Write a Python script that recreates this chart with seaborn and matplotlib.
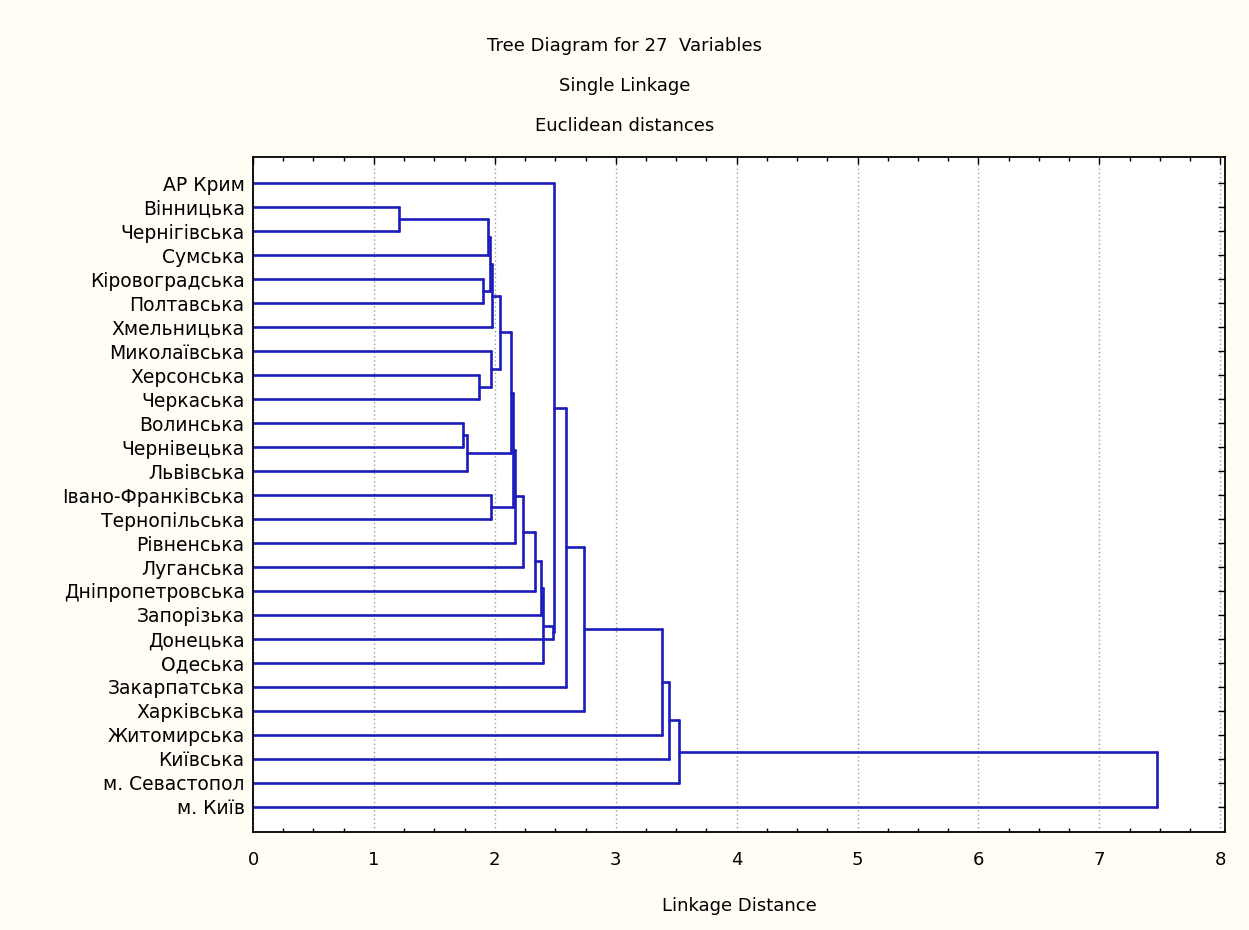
import matplotlib.pyplot as plt
from matplotlib.ticker import MultipleLocator
import seaborn as sns
import numpy as np
import pandas as pd

# leaves, top to bottom
labels = ['АР Крим', 'Вінницька', 'Чернігівська', 'Сумська', 'Кіровоградська',
          'Полтавська', 'Хмельницька', 'Миколаївська', 'Херсонська', 'Черкаська',
          'Волинська', 'Чернівецька', 'Львівська', 'Івано-Франківська',
          'Тернопільська', 'Рівненська', 'Луганська', 'Дніпропетровська',
          'Запорізька', 'Донецька', 'Одеська', 'Закарпатська', 'Харківська',
          'Житомирська', 'Київська', 'м. Севастопол', 'м. Київ']

# single linkage merges: ids < 27 are leaves, id 27+k is the k-th merge
merge_a = [1, 10, 28, 8, 4, 27, 32, 7, 13, 33, 36, 37, 38, 39, 40, 41,
           42, 43, 44, 0, 46, 47, 48, 49, 50, 51]
merge_b = [2, 11, 12, 9, 5, 3, 31, 30, 14, 6, 34, 29, 35, 15, 16, 17,
           18, 20, 19, 45, 21, 22, 23, 24, 25, 26]
merge_dist = [1.21, 1.74, 1.77, 1.87, 1.90, 1.94, 1.96, 1.965, 1.97, 1.98,
              2.04, 2.13, 2.15, 2.165, 2.23, 2.33, 2.38, 2.40, 2.485, 2.49,
              2.59, 2.74, 3.38, 3.44, 3.52, 7.48]

n = len(labels)
pos = {i: (float(i), 0.0) for i in range(n)}  # id -> (y, height)
rows = []
seg = 0
for k, (a, b, d) in enumerate(zip(merge_a, merge_b, merge_dist)):
    ya, ha = pos[a]
    yb, hb = pos[b]
    for x0, x1, y0, y1 in [(ha, d, ya, ya), (hb, d, yb, yb), (d, d, ya, yb)]:
        rows.append((seg, x0, y0))
        rows.append((seg, x1, y1))
        seg += 1
    pos[n + k] = ((ya + yb) / 2, d)
segs = pd.DataFrame(rows, columns=['seg', 'x', 'y'])

sns.set_style('white')
plt.rcParams['font.family'] = ['DejaVu Sans']
plt.rcParams.update({'text.color': 'black', 'axes.labelcolor': 'black',
                     'xtick.color': 'black', 'ytick.color': 'black'})

fig = plt.figure(figsize=(12.49, 9.30), dpi=100, facecolor='#fffdf4')
ax = fig.add_axes([0.2026, 0.1054, 0.7782, 0.7258])
ax.set_facecolor('white')

sns.lineplot(data=segs, x='x', y='y', units='seg', estimator=None, sort=False,
             color='#1c1cbc', linewidth=1.9, legend=False, ax=ax)

ax.set_xlim(0, 8.04)
ax.set_ylim(n - 1 + 1.05, -1.1)
ax.set_yticks(range(n))
ax.set_yticklabels(labels, fontsize=13.5)
ax.set_xticks(range(9))
ax.set_xticklabels([str(i) for i in range(9)], fontsize=13)
ax.xaxis.set_minor_locator(MultipleLocator(0.25))
ax.tick_params(axis='both', which='major', direction='in', length=5, width=1,
               top=True, right=True)
ax.tick_params(axis='x', which='minor', direction='in', length=3, width=1,
               top=True, bottom=True)
ax.tick_params(axis='x', pad=14)
ax.tick_params(axis='y', pad=6)
ax.xaxis.grid(True, linestyle=(0, (1, 2)), color='#9a9a9a', linewidth=1)
ax.yaxis.grid(False)
ax.set_axisbelow(True)
for s in ax.spines.values():
    s.set_color('black')
    s.set_linewidth(1.3)

ax.set_ylabel('')
ax.set_xlabel('Linkage Distance', fontsize=13, labelpad=20)

fig.text(0.5, 0.951, 'Tree Diagram for 27  Variables', ha='center', va='center', fontsize=13)
fig.text(0.5, 0.908, 'Single Linkage', ha='center', va='center', fontsize=13)
fig.text(0.5, 0.864, 'Euclidean distances', ha='center', va='center', fontsize=13)

fig.savefig('out.png', dpi=100, facecolor=fig.get_facecolor())
